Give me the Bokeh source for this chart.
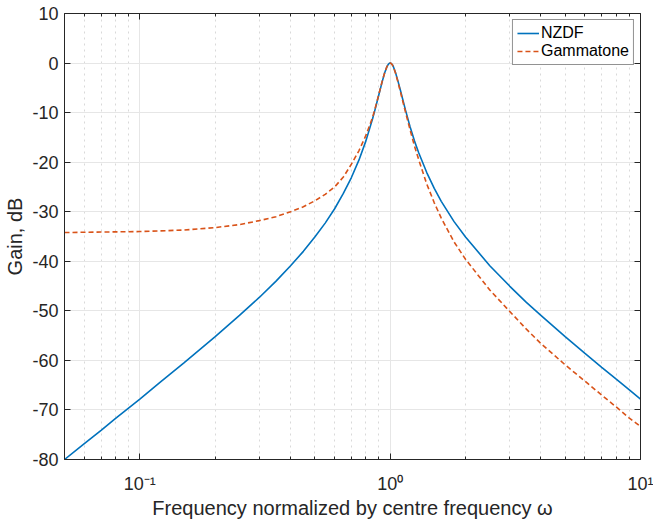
from bokeh.plotting import figure
from bokeh.models import (LogAxis, LinearAxis, FixedTicker, Legend, LegendItem,
                          ColumnDataSource, CustomJSTickFormatter)
from bokeh.embed import file_html
from bokeh.resources import INLINE

# ---- data ----
nzdf_freq = [0.05, 0.06, 0.07, 0.08, 0.1, 0.12, 0.15, 0.2, 0.25, 0.3, 0.35,
             0.4, 0.45, 0.5, 0.55, 0.6, 0.65, 0.7, 0.75, 0.8, 0.85, 0.87, 0.9,
             0.93, 0.95, 0.97, 0.98, 0.99, 1.0, 1.01, 1.02, 1.03, 1.05, 1.075,
             1.1, 1.15, 1.2, 1.25, 1.3, 1.4, 1.5, 1.6, 1.8, 2.0, 2.5, 3.0, 3.5,
             4.0, 5.0, 6.0, 7.0, 8.0, 9.0, 10.0]
nzdf_gain = [-80.0, -76.8, -74.1, -71.7, -67.8, -64.5, -60.5, -55.2, -50.9,
             -47.3, -44.0, -40.9, -38.0, -35.1, -32.3, -29.4, -26.3, -23.1,
             -19.6, -15.7, -11.3, -9.4, -6.5, -3.7, -2.0, -0.77, -0.35, -0.1,
             0.0, -0.1, -0.33, -0.73, -1.9, -3.7, -5.6, -9.4, -12.8, -15.7,
             -18.1, -22.1, -25.3, -27.9, -32.0, -35.1, -40.9, -45.0, -48.3,
             -50.9, -55.2, -58.6, -61.4, -63.8, -65.9, -67.8]

gamma_freq = [0.05, 0.07, 0.1, 0.15, 0.2, 0.25, 0.3, 0.35, 0.4, 0.45, 0.5,
              0.55, 0.6, 0.65, 0.7, 0.75, 0.8, 0.85, 0.87, 0.9, 0.93, 0.95,
              0.97, 0.98, 0.99, 1.0, 1.01, 1.02, 1.03, 1.05, 1.075, 1.1, 1.15,
              1.2, 1.25, 1.3, 1.4, 1.5, 1.6, 1.8, 2.0, 2.5, 3.0, 3.5, 4.0, 5.0,
              6.0, 7.0, 8.0, 9.0, 10.0]
gamma_gain = [-34.2, -34.1, -34.0, -33.7, -33.2, -32.6, -31.8, -31.0, -30.0,
              -29.0, -27.8, -26.5, -25.0, -23.0, -20.4, -17.7, -14.6, -11.0,
              -9.2, -6.4, -3.6, -2.0, -0.75, -0.35, -0.1, 0.0, -0.1, -0.35,
              -0.78, -2.0, -3.9, -5.9, -9.8, -13.4, -16.7, -19.5, -24.4, -28.2,
              -31.3, -36.1, -39.6, -45.8, -50.1, -53.7, -56.6, -60.9, -64.2,
              -67.0, -69.4, -71.6, -73.3]

series_names = ["NZDF", "Gammatone"]

x_major = [0.1, 1.0, 10.0]
x_major_labels = ["10\u207b\u00b9", "10\u2070", "10\u00b9"]
x_minor = [0.05, 0.06, 0.07, 0.08, 0.09, 0.2, 0.3, 0.4, 0.5, 0.6, 0.7, 0.8,
           0.9, 2, 3, 4, 5, 6, 7, 8, 9]
y_ticks = [-80, -70, -60, -50, -40, -30, -20, -10, 0, 10]

x_label = "Frequency normalized by centre frequency \u03c9"
y_label = "Gain, dB"

# ---- figure ----
TXT = "#262626"
FONT = "Liberation Sans"

p = figure(width=653, height=521, x_axis_type="log", x_range=(0.05, 10),
           y_range=(-80, 10), output_backend="svg", toolbar_location=None,
           min_border_left=64, min_border_right=13, min_border_top=13,
           min_border_bottom=61, background_fill_color="white",
           border_fill_color="white")
p.outline_line_color = None

bottom = p.xaxis[0]
left = p.yaxis[0]

xt = FixedTicker(ticks=x_major, minor_ticks=x_minor)
yt = FixedTicker(ticks=y_ticks)

bottom.ticker = xt
left.ticker = yt
bottom.formatter = CustomJSTickFormatter(
    args=dict(vals=x_major, labs=x_major_labels),
    code="""
let best = 0, bd = Infinity;
for (let i = 0; i < vals.length; i++) {
  const d = Math.abs(Math.log10(tick) - Math.log10(vals[i]));
  if (d < bd) { bd = d; best = i; }
}
return labs[best];
""")
left.formatter = CustomJSTickFormatter(code="return String(Math.round(tick));")
bottom.axis_label = x_label
left.axis_label = y_label

top = LogAxis(ticker=xt, formatter=CustomJSTickFormatter(code="return '';"))
right = LinearAxis(ticker=yt, formatter=CustomJSTickFormatter(code="return '';"))
p.add_layout(top, "above")
p.add_layout(right, "right")

for ax in [bottom, left, top, right]:
    ax.axis_line_color = TXT
    ax.axis_line_width = 1
    ax.major_tick_line_color = TXT
    ax.minor_tick_line_color = TXT
    ax.major_tick_in = 6
    ax.major_tick_out = 0
    ax.minor_tick_in = 3
    ax.minor_tick_out = 0
    ax.major_label_text_color = TXT
    ax.major_label_text_font = FONT
    ax.major_label_text_font_size = "18px"
    ax.axis_label_text_font = FONT
    ax.axis_label_text_font_size = "20px"
    ax.axis_label_text_font_style = "normal"
    ax.axis_label_text_color = TXT

for ax in [top, right]:
    ax.major_label_text_font_size = "2px"
    ax.major_label_standoff = 0

left.minor_tick_line_color = None
right.minor_tick_line_color = None
bottom.major_label_standoff = 14
bottom.axis_label_standoff = 0
left.major_label_standoff = 6
left.axis_label_standoff = 3

p.xgrid.ticker = xt
p.ygrid.ticker = yt
p.xgrid.grid_line_color = "#e6e6e6"
p.ygrid.grid_line_color = "#e6e6e6"
p.xgrid.minor_grid_line_color = "#d9d9d9"
p.xgrid.minor_grid_line_dash = "dotted"

src1 = ColumnDataSource(dict(x=nzdf_freq, y=nzdf_gain))
src2 = ColumnDataSource(dict(x=gamma_freq, y=gamma_gain))
r1 = p.line("x", "y", source=src1, line_color="#0072BD", line_width=1.6)
r2 = p.line("x", "y", source=src2, line_color="#D95319", line_width=1.6,
            line_dash="5 3")

legend = Legend(items=[LegendItem(label=series_names[0], renderers=[r1]),
                       LegendItem(label=series_names[1], renderers=[r2])],
                location="top_right")
legend.border_line_color = TXT
legend.border_line_width = 1
legend.label_text_font = FONT
legend.label_text_font_size = "16px"
legend.label_text_color = "black"
legend.glyph_width = 22
legend.glyph_height = 16
legend.label_height = 18
legend.label_standoff = 2
legend.padding = 4
legend.spacing = 0
legend.margin = 6
legend.background_fill_alpha = 1.0
p.add_layout(legend)

open("out.html", "w").write(file_html(p, INLINE))
